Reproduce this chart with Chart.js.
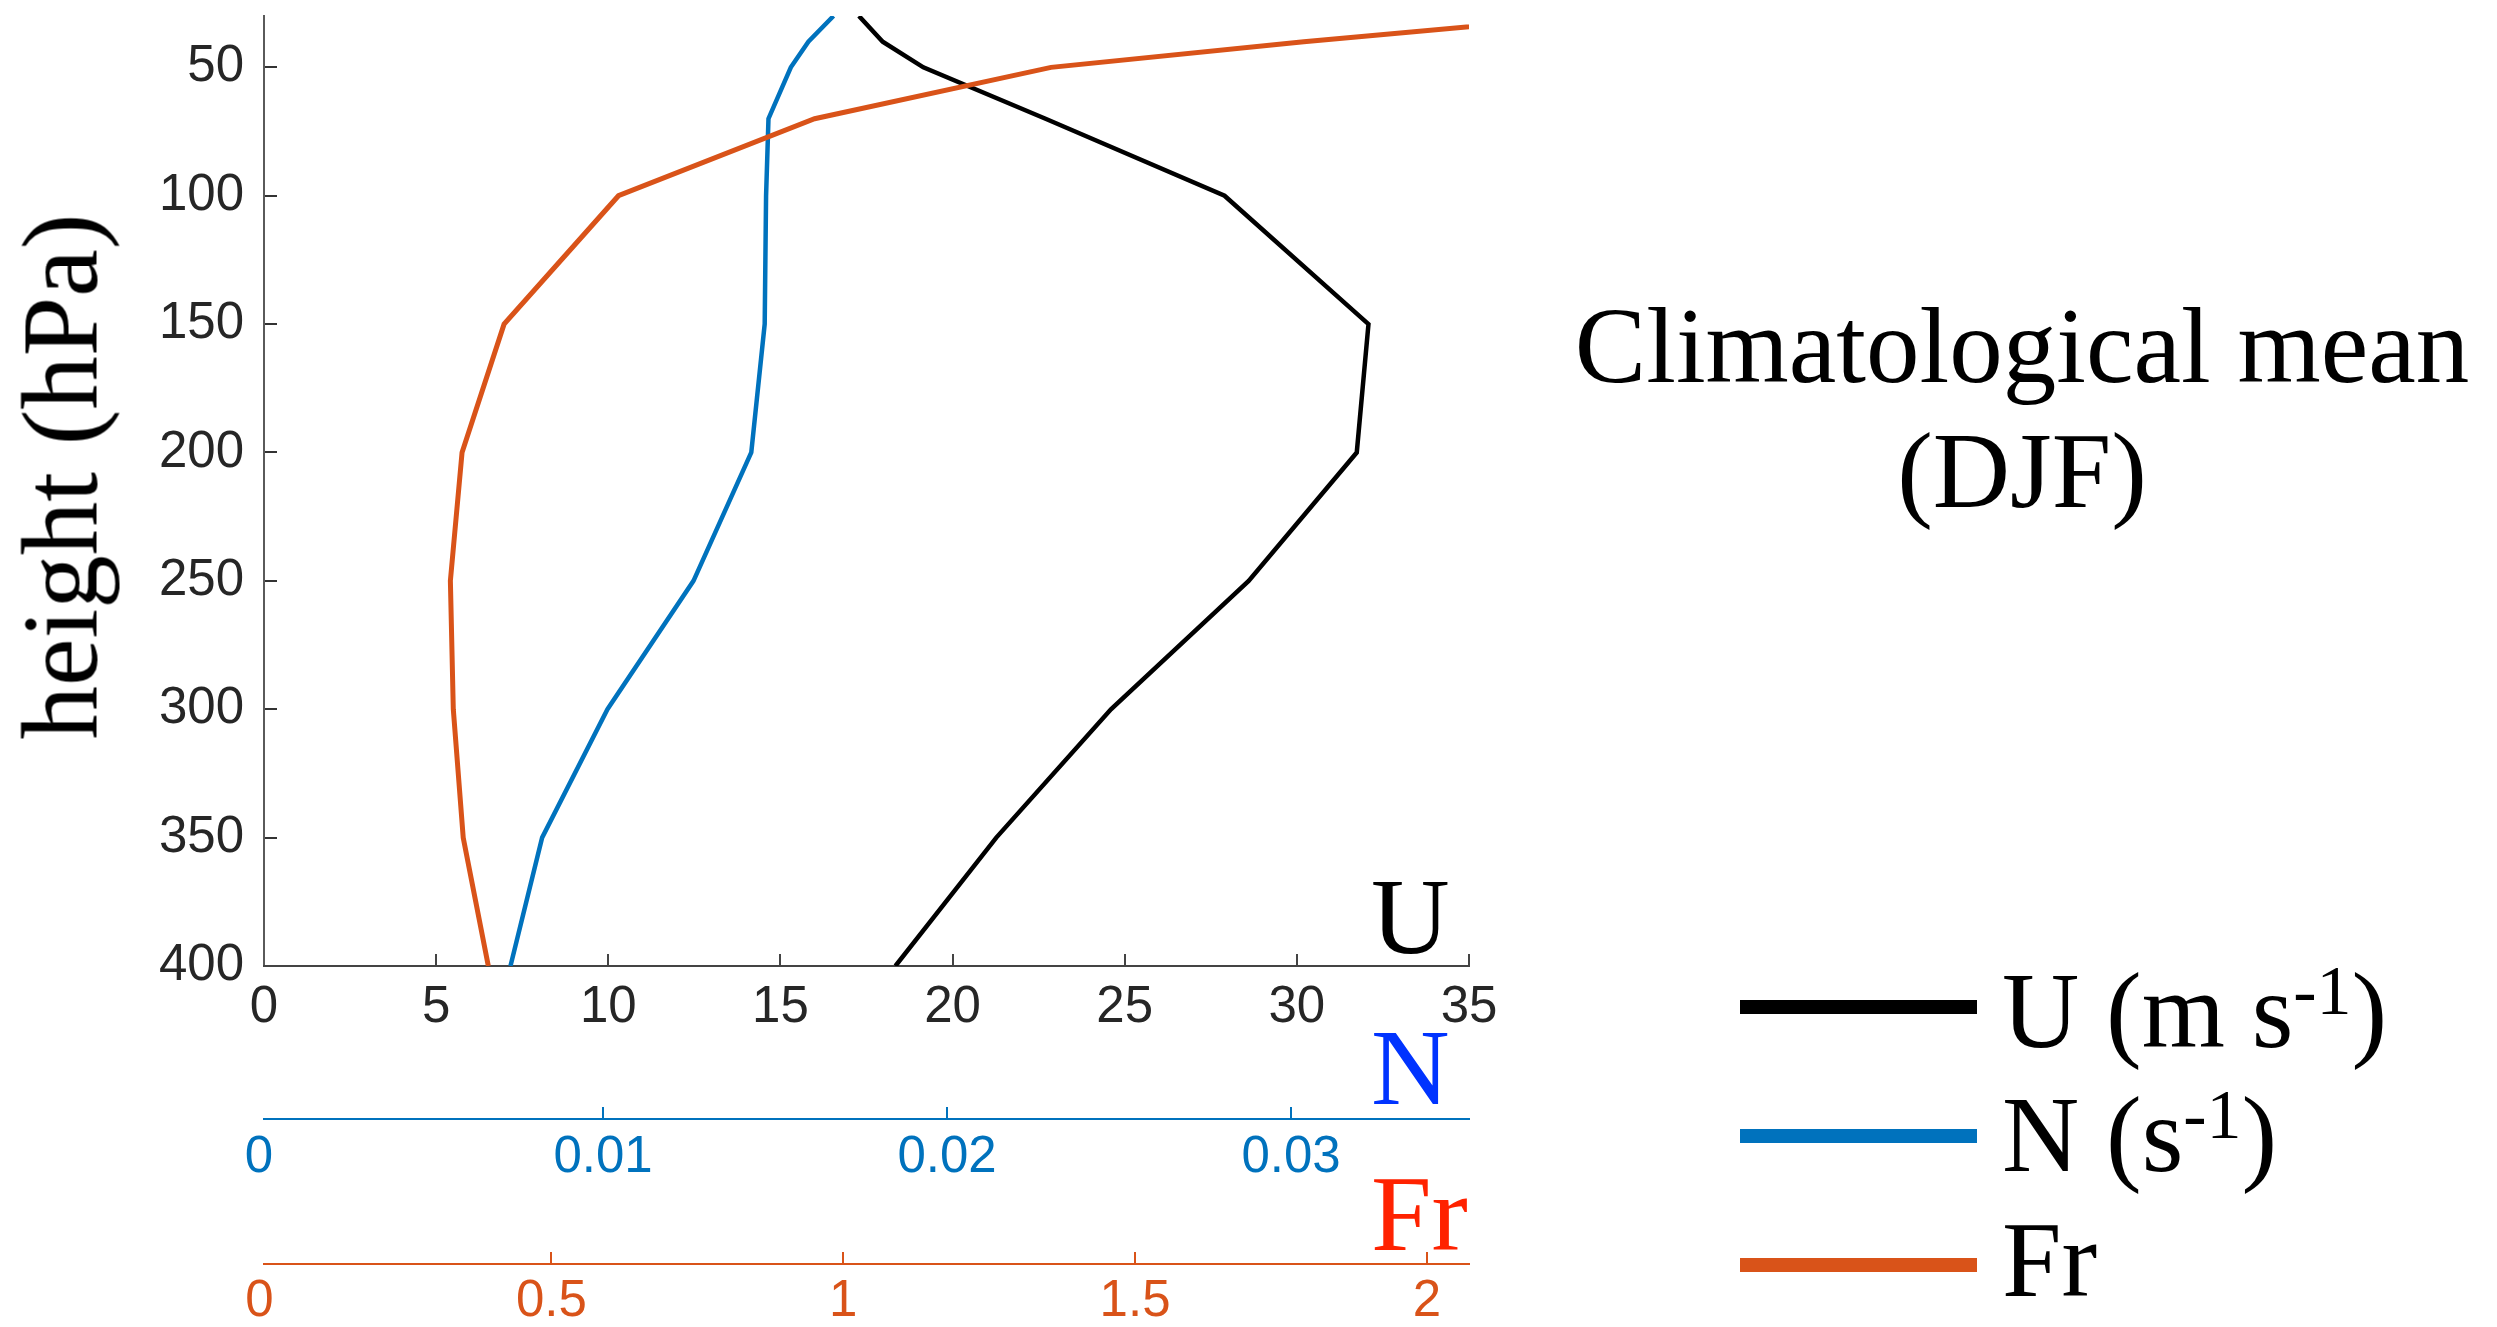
<!DOCTYPE html>
<html lang="en">
<head>
  <meta charset="UTF-8" />
  <title>Climatological mean (DJF)</title>

  <!-- Chart.js -->
  <script src="https://cdn.jsdelivr.net/npm/chart.js"></script>

  <style>
    body {
      margin: 0;
      background: #fff;
    }

    #wrap {
      position: relative;
      width: 2497px;
      height: 1327px;
    }

    canvas {
      position: absolute;
      left: 0;
      top: 0;
    }

    .serif {
      position: absolute;
      font-family: 'Liberation Serif', 'Times New Roman', serif;
      white-space: nowrap;
      color: #000;
    }

    /* y axis title, rotated to read bottom to top */
    #ytitle {
      left: -239px;
      top: 414px;
      width: 600px;
      text-align: center;
      font-size: 107px;
      line-height: 125px;
      transform: rotate(-90deg);
    }

    .axlab {
      left: 1371px;
      font-size: 109px;
      line-height: 109px;
    }

    #title {
      left: 1522px;
      top: 284px;
      width: 1000px;
      text-align: center;
      font-size: 107px;
      line-height: 125px;
    }

    .leg {
      left: 2002px;
      font-size: 107px;
      line-height: 125px;
    }

    .sup {
      position: relative;
      top: -33px;
      font-size: 70px;
    }

    .swatch {
      position: absolute;
      left: 1740px;
      width: 237px;
      height: 14px;
    }
  </style>
</head>
<body>
  <div id="wrap">
    <canvas id="profileChart" width="2497" height="1327"></canvas>

    <div class="serif" id="ytitle">height (hPa)</div>

    <!-- axis names -->
    <div class="serif axlab" style="top: 862px;">U</div>
    <div class="serif axlab" style="top: 1013px; color: #0033ff;">N</div>
    <div class="serif axlab" style="top: 1159px; color: #ff2200;">Fr</div>

    <!-- title -->
    <div class="serif" id="title">Climatological mean<br>(DJF)</div>

    <!-- legend -->
    <div class="swatch" style="top: 1000px; background: #000000;"></div>
    <div class="serif leg" style="top: 949px;">U (m s<span class="sup">-1</span>)</div>
    <div class="swatch" style="top: 1129px; background: #0072bd;"></div>
    <div class="serif leg" style="top: 1073px;">N (s<span class="sup">-1</span>)</div>
    <div class="swatch" style="top: 1258px; background: #d95319;"></div>
    <div class="serif leg" style="top: 1198px;">Fr</div>
  </div>

  <script>
    // pressure levels (hPa) and the three profiles
    const pressure = [30, 40, 50, 70, 100, 150, 200, 250, 300, 350, 400];
    const uWind = [17.28, 17.97, 19.15, 22.7, 27.9, 32.08, 31.74, 28.6, 24.6, 21.27, 18.34];
    const nFreq = [0.0167, 0.01597, 0.01546, 0.01481, 0.01474, 0.0147, 0.01431, 0.01263, 0.01013, 0.00823, 0.00731];
    const froude = [2.273, 1.789, 1.356, 0.951, 0.615, 0.419, 0.347, 0.327, 0.332, 0.349, 0.392];

    // tick labels
    const yTicks = [50, 100, 150, 200, 250, 300, 350, 400];
    const uTicks = [0, 5, 10, 15, 20, 25, 30, 35];
    const nTicks = [0, 0.01, 0.02, 0.03];
    const frTicks = [0, 0.5, 1, 1.5, 2];

    const tickFont = { family: "'Liberation Sans', Arial, sans-serif", size: 51 };

    function profile(values) {
      return values.map((v, i) => ({ x: v, y: pressure[i] }));
    }

    function setTicks(list) {
      return scale => { scale.ticks = list.map(v => ({ value: v })); };
    }

    // bottom axes: fixed band heights, ticks pointing up from the axis line
    function bottomAxis(min, max, list, color, labelColor, band, pad, hideZero) {
      return {
        type: "linear",
        position: "bottom",
        min: min,
        max: max,
        afterBuildTicks: setTicks(list),
        afterFit: scale => {
          scale.height = band;
          scale.paddingLeft = 0;
          scale.paddingRight = 0;
        },
        border: { display: true, color: color, width: 2 },
        grid: {
          drawOnChartArea: false,
          tickLength: -12,
          lineWidth: 2,
          color: ctx => (hideZero && ctx.tick && ctx.tick.value === 0) ? "rgba(0,0,0,0)" : color
        },
        ticks: {
          autoSkip: false,
          maxRotation: 0,
          padding: pad,
          color: labelColor,
          font: tickFont,
          callback: v => String(v)
        }
      };
    }

    const profileChart = new Chart(document.getElementById("profileChart"), {
      type: "scatter",
      data: {
        datasets: [
          {
            label: "U (m s-1)",
            data: profile(uWind),
            xAxisID: "xU",
            yAxisID: "y",
            showLine: true,
            borderColor: "#000000",
            borderWidth: 4.5,
            pointRadius: 0,
            order: 3
          },
          {
            label: "N (s-1)",
            data: profile(nFreq),
            xAxisID: "xN",
            yAxisID: "y",
            showLine: true,
            borderColor: "#0072bd",
            borderWidth: 4.5,
            pointRadius: 0,
            order: 2
          },
          {
            label: "Fr",
            data: profile(froude),
            xAxisID: "xFr",
            yAxisID: "y",
            showLine: true,
            borderColor: "#d95319",
            borderWidth: 5,
            pointRadius: 0,
            order: 1
          }
        ]
      },
      options: {
        responsive: false,
        animation: false,
        devicePixelRatio: 1,
        layout: {
          padding: { left: 0, top: 16, right: 1028, bottom: 0 }
        },
        plugins: {
          legend: { display: false },
          tooltip: { enabled: false }
        },
        scales: {
          y: {
            type: "linear",
            position: "left",
            reverse: true,
            min: 30,
            max: 400,
            afterBuildTicks: setTicks(yTicks),
            afterFit: scale => {
              scale.width = 264;
              scale.paddingTop = 0;
              scale.paddingBottom = 0;
            },
            border: { display: true, color: "#5a5a5a", width: 2 },
            grid: { drawOnChartArea: false, tickLength: -13, color: "#333333", lineWidth: 2 },
            ticks: {
              autoSkip: false,
              padding: 33,
              color: "#262626",
              font: tickFont
            }
          },
          xU: bottomAxis(0, 35, uTicks, "#444444", "#262626", 153, 23.4, false),
          xN: bottomAxis(0.000145, 0.035174, nTicks, "#0072bd", "#0072bd", 145, 20.4, true),
          xFr: bottomAxis(0.0077, 2.0721, frTicks, "#d95319", "#d95319", 63, 19.4, true)
        }
      }
    });
  </script>
</body>
</html>
